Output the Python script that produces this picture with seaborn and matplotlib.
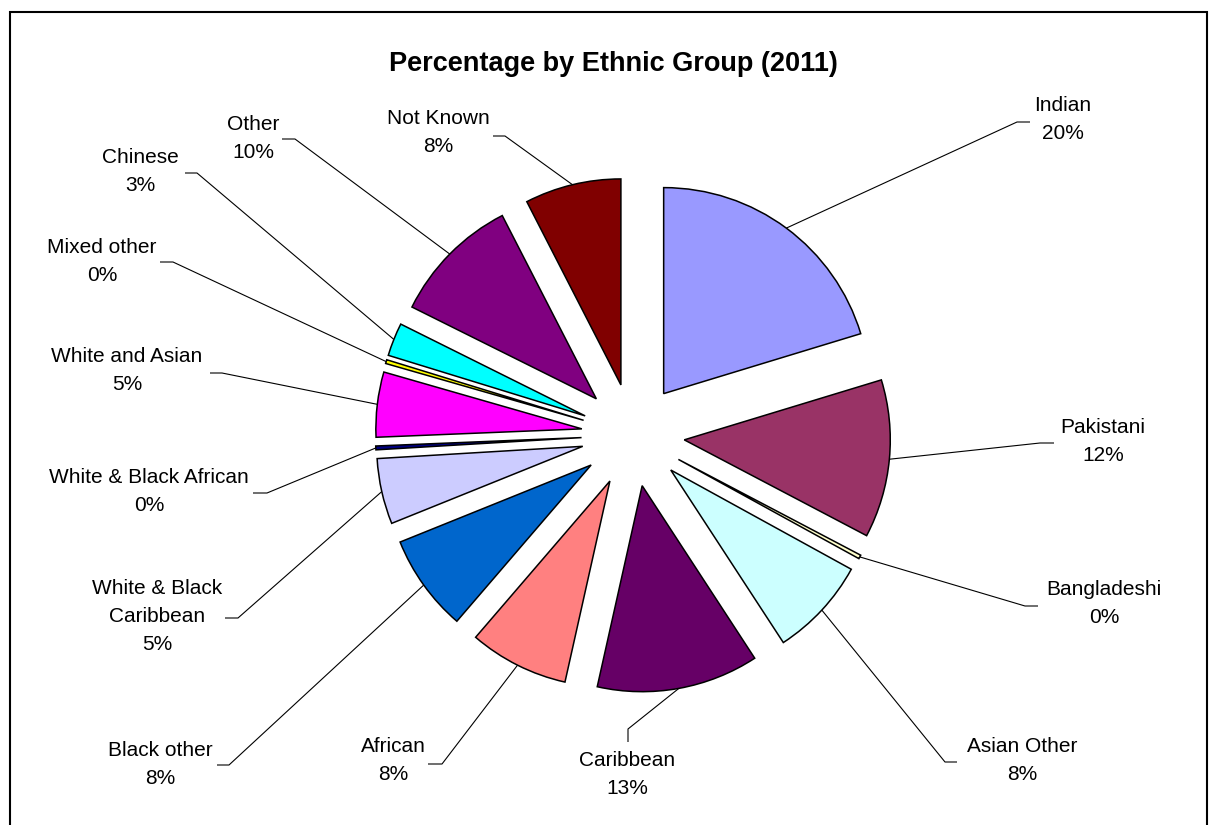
import math
import matplotlib
matplotlib.use("Agg")
import matplotlib.pyplot as plt
import seaborn as sns
from matplotlib.patches import Rectangle

# ---------------- data ----------------
groups = ["Indian", "Pakistani", "Bangladeshi", "Asian Other", "Caribbean",
          "African", "Black other", "White & Black\nCaribbean",
          "White & Black African", "White and Asian", "Mixed other",
          "Chinese", "Other", "Not Known"]
percent = [20.3, 12.4, 0.3, 7.8, 12.7, 7.8, 7.6, 5.15, 0.3, 5.1, 0.3,
           2.6, 10.1, 7.55]
colors = ["#9999FF", "#993366", "#FFFFCC", "#CCFFFF", "#660066", "#FF8080",
          "#0066CC", "#CCCCFF", "#000080", "#FF00FF", "#FFFF00", "#00FFFF",
          "#800080", "#800000"]
title = "Percentage by Ethnic Group (2011)"

# ---------------- layout (pixel positions on the 1217x825 canvas) ----------------
W, H = 1217, 825
CX, CY, R = 633, 435, 206
label_xy = [(1063, 120), (1103, 442), (1104, 604), (1022, 761), (627, 774),
            (393, 761), (160, 764), (157, 617), (149, 492), (127, 371),
            (102, 262), (140, 172), (253, 139), (438, 133)]
knee_xy = [(1017, 122), (1040, 443), (1025, 606), (945, 762), (628, 729),
           (442, 764), (229, 765), (238, 618), (267, 493), (222, 373),
           (173, 262), (197, 173), (295, 139), (505, 136)]
stub_xy = [(1030, 122), (1054, 443), (1038, 606), (957, 762), (628, 742),
           (428, 764), (217, 765), (225, 618), (253, 493), (210, 373),
           (160, 262), (185, 173), (282, 139), (493, 136)]


def px(p):
    return ((p[0] - CX) / R, (CY - p[1]) / R)


sns.set_style("white")
plt.rcParams["font.family"] = ["Liberation Sans", "DejaVu Sans"]

fig = plt.figure(figsize=(W / 100, H / 100), dpi=100)
ax = fig.add_axes([0, 0, 1, 1])

wedges, _ = ax.pie(percent, colors=colors, startangle=90, counterclock=False,
                   explode=[0.25] * len(percent), radius=1,
                   wedgeprops=dict(edgecolor="black", linewidth=1.1))

for w, g, p, lxy, kxy, sxy in zip(wedges, groups, percent, label_xy,
                                   knee_xy, stub_xy):
    tm = math.radians((w.theta1 + w.theta2) / 2)
    a = (w.center[0] + w.r * math.cos(tm), w.center[1] + w.r * math.sin(tm))
    k = px(kxy)
    s = px(sxy)
    ax.plot([a[0], k[0], s[0]], [a[1], k[1], s[1]], color="black", lw=0.8,
            solid_capstyle="butt", zorder=0)
    t = px(lxy)
    ax.text(t[0], t[1], f"{g}\n{p:.0f}%", ha="center", va="center",
            multialignment="center", fontsize=15, linespacing=1.6,
            color="black")

ax.set_xlim(-CX / R, (W - CX) / R)
ax.set_ylim(-(H - CY) / R, CY / R)
ax.set_aspect("equal")
ax.axis("off")

fig.text(613.5 / W, 1 - 64 / H, title, ha="center", va="center",
         fontsize=19.5, fontweight="bold", color="black")

fig.patches.append(Rectangle((9.5 / W, -0.05), (1207 - 9.5) / W,
                             1.05 - 11.5 / H, transform=fig.transFigure,
                             fill=False, edgecolor="black", lw=1.5))

fig.savefig("out.png", dpi=100, facecolor="white")
